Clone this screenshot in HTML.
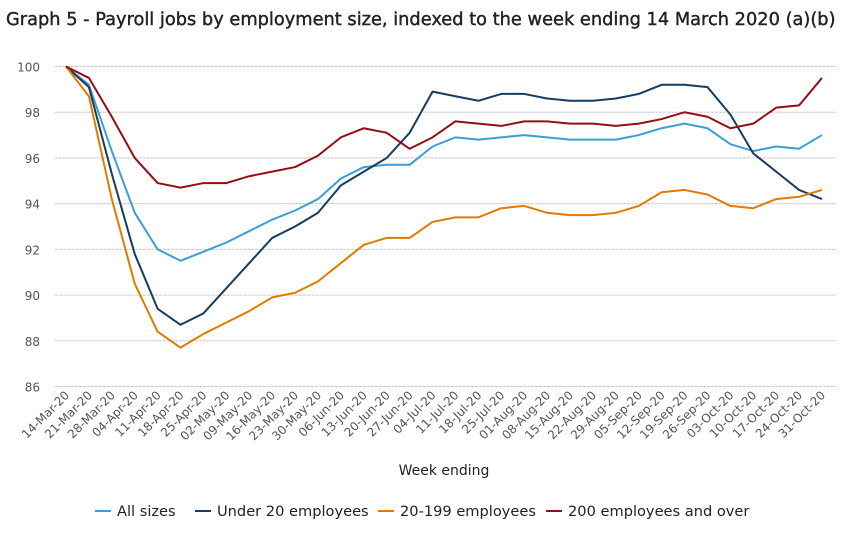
<!DOCTYPE html>
<html><head><meta charset="utf-8"><style>
body{margin:0;background:#fff;font-family:"Liberation Sans",sans-serif;}
svg text{font-family:"DejaVu Sans","Liberation Sans",sans-serif;}
</style></head><body>
<svg id="c" width="852" height="530" xmlns="http://www.w3.org/2000/svg">
<text x="6" y="25" font-size="17.8" fill="#222" stroke="#222" stroke-width="0.4">Graph 5 - Payroll jobs by employment size, indexed to the week ending 14 March 2020 (a)(b)</text>
<g id="grid"></g><g id="lines"></g><g id="xl"></g>
<text x="444" y="475" font-size="14" fill="#222" text-anchor="middle">Week ending</text>
<g id="legend"></g>
</svg>
<script>
const categories=["14-Mar-20","21-Mar-20","28-Mar-20","04-Apr-20","11-Apr-20","18-Apr-20","25-Apr-20","02-May-20","09-May-20","16-May-20","23-May-20","30-May-20","06-Jun-20","13-Jun-20","20-Jun-20","27-Jun-20","04-Jul-20","11-Jul-20","18-Jul-20","25-Jul-20","01-Aug-20","08-Aug-20","15-Aug-20","22-Aug-20","29-Aug-20","05-Sep-20","12-Sep-20","19-Sep-20","26-Sep-20","03-Oct-20","10-Oct-20","17-Oct-20","24-Oct-20","31-Oct-20"];
const allSizes=[100,99.2,96.3,93.6,92.0,91.5,91.9,92.3,92.8,93.3,93.7,94.2,95.1,95.6,95.7,95.7,96.5,96.9,96.8,96.9,97.0,96.9,96.8,96.8,96.8,97.0,97.3,97.5,97.3,96.6,96.3,96.5,96.4,97.0];
const under20=[100,99.1,95.3,91.8,89.4,88.7,89.2,90.3,91.4,92.5,93.0,93.6,94.8,95.4,96.0,97.1,98.9,98.7,98.5,98.8,98.8,98.6,98.5,98.5,98.6,98.8,99.2,99.2,99.1,97.9,96.2,95.4,94.6,94.2];
const mid=[100,98.7,94.2,90.5,88.4,87.7,88.3,88.8,89.3,89.9,90.1,90.6,91.4,92.2,92.5,92.5,93.2,93.4,93.4,93.8,93.9,93.6,93.5,93.5,93.6,93.9,94.5,94.6,94.4,93.9,93.8,94.2,94.3,94.6];
const big=[100,99.5,97.8,96.0,94.9,94.7,94.9,94.9,95.2,95.4,95.6,96.1,96.9,97.3,97.1,96.4,96.9,97.6,97.5,97.4,97.6,97.6,97.5,97.5,97.4,97.5,97.7,98.0,97.8,97.3,97.5,98.2,98.3,99.5];
const yTicks=[86,88,90,92,94,96,98,100];
const seriesNames=["All sizes","Under 20 employees","20-199 employees","200 employees and over"];
const colors=["#3a9fd6","#143d5f","#e07b00","#960d14"];
const NS="http://www.w3.org/2000/svg";
const x0=66,x1=822,yTop=66.5,yBot=386.5;
const xs=i=>x0+(x1-x0)*i/(categories.length-1);
const ys=v=>yBot-(v-86)/(100-86)*(yBot-yTop);
function mk(t,a,p){const e=document.createElementNS(NS,t);for(const k in a)e.setAttribute(k,a[k]);p.appendChild(e);return e;}
const grid=document.getElementById('grid');
yTicks.forEach(v=>{
 const l=mk('line',{x1:55,x2:836,y1:ys(v),y2:ys(v),stroke:'#c8c8d0','stroke-dasharray':'3,1','stroke-width':1},grid);
 
 
 const t=mk('text',{x:40,y:ys(v)+5,'font-size':12,fill:'#555','text-anchor':'end'},grid);
 t.textContent=v;
 
 
});
const xl=document.getElementById('xl');
categories.forEach((c,i)=>{
 const x=xs(i)+4,y=396;
 const t=mk('text',{x:x,y:y,'font-size':12,fill:'#555','text-anchor':'end',transform:`rotate(-45 ${x} ${y})`},xl);
 t.textContent=c;
 
 
});
const lines=document.getElementById('lines');
[allSizes,under20,mid,big].forEach((s,k)=>{
 const p=mk('polyline',{points:s.map((v,i)=>xs(i)+','+ys(v)).join(' '),fill:'none',stroke:colors[k],'stroke-width':2,'stroke-linejoin':'round'},lines);
 
 
});
const lg=document.getElementById('legend');
const lx=[95,195,378,546];
seriesNames.forEach((n,k)=>{
 const g=mk('g',{},lg);
 
 
 mk('line',{x1:lx[k],x2:lx[k]+16,y1:511,y2:511,stroke:colors[k],'stroke-width':2},g);
 const t=mk('text',{x:lx[k]+22,y:516,'font-size':14.6,fill:'#222'},g);
 t.textContent=n;
});
</script>
</body></html>
